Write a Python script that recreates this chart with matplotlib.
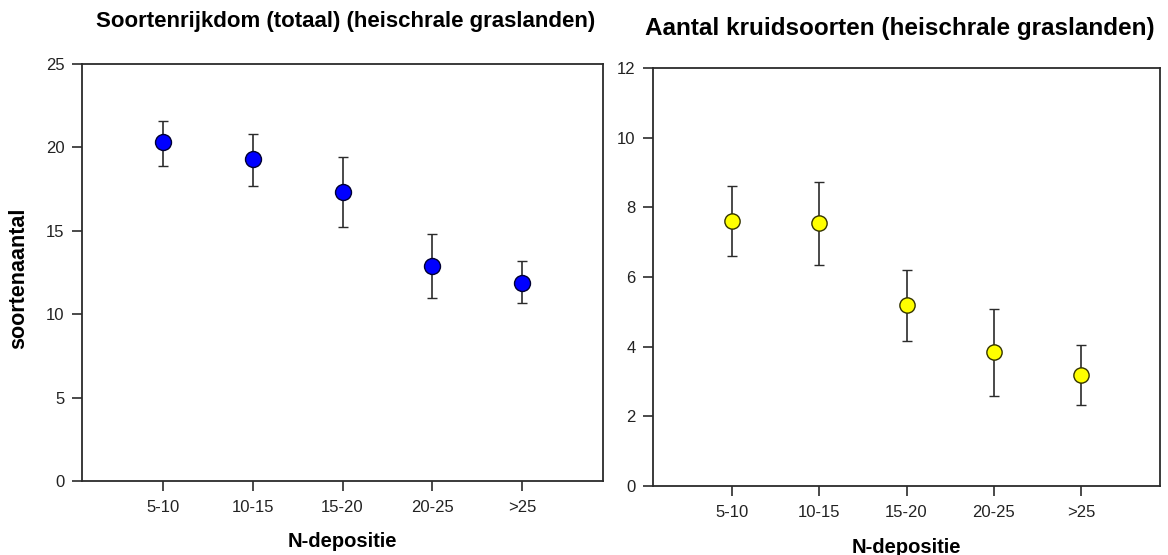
import matplotlib
matplotlib.use("Agg")
import numpy as np
import matplotlib.pyplot as plt

plt.rcParams['font.family'] = ['Liberation Sans', 'DejaVu Sans']

# categorieen N-depositie
klassen = ['5-10', '10-15', '15-20', '20-25', '>25']

# soortenrijkdom totaal: gemiddelde, onder- en bovengrens
totaal_gem = [20.3, 19.3, 17.3, 12.9, 11.9]
totaal_laag = [18.9, 17.7, 15.2, 11.0, 10.7]
totaal_hoog = [21.6, 20.8, 19.4, 14.8, 13.2]

# aantal kruidsoorten
kruid_gem = [7.6, 7.55, 5.2, 3.85, 3.2]
kruid_laag = [6.6, 6.35, 4.15, 2.57, 2.33]
kruid_hoog = [8.6, 8.72, 6.21, 5.09, 4.06]

lijn = '#2b2b2b'
W, H = 1168, 555


def paneel(ax, gem, laag, hoog, kleur, rand, ymax, ystap, ms):
    x = np.arange(1, len(klassen) + 1)
    gem = np.array(gem)
    yerr = [gem - np.array(laag), np.array(hoog) - gem]
    ax.errorbar(x, gem, yerr=yerr, fmt='o', color=lijn, ecolor=lijn,
                elinewidth=1.2, capsize=3.3, capthick=1.2,
                markerfacecolor=kleur, markeredgecolor=rand,
                markeredgewidth=1.0, markersize=ms, zorder=3)
    ax.set_xlim(0.1, 5.9)
    ax.set_ylim(0, ymax)
    ax.set_xticks(x)
    ax.set_xticklabels(klassen)
    ax.set_yticks(np.arange(0, ymax + 0.01, ystap))
    ax.tick_params(direction='out', length=7.5, width=1.2, color=lijn,
                   labelsize=12, labelcolor='#222222')
    ax.tick_params(axis='x', pad=6)
    ax.tick_params(axis='y', pad=5)
    for s in ax.spines.values():
        s.set_linewidth(1.3)
        s.set_color(lijn)


fig = plt.figure(figsize=(W / 100, H / 100), dpi=100)

ax1 = fig.add_axes([0.0702, 0.1333, 0.4461, 0.7514])
paneel(ax1, totaal_gem, totaal_laag, totaal_hoog, '#0000ff', '#000033', 25, 5, 11.5)

ax2 = fig.add_axes([0.5591, 0.1243, 0.4341, 0.7532])
paneel(ax2, kruid_gem, kruid_laag, kruid_hoog, '#ffff00', '#333300', 12, 2, 11)

# as-labels
fig.text(19 / W, 1 - 278 / H, 'soortenaantal', rotation=90, ha='center', va='center',
         fontsize=15.5, fontweight='bold')
fig.text(342 / W, 1 - 547 / H, 'N-depositie', ha='center', va='baseline',
         fontsize=14.5, fontweight='bold')
fig.text(906 / W, 1 - 553 / H, 'N-depositie', ha='center', va='baseline',
         fontsize=14.5, fontweight='bold')

# titels
fig.text(346 / W, 1 - 22 / H, 'Soortenrijkdom (totaal) (heischrale graslanden)',
         ha='center', va='center', fontsize=16, fontweight='bold')
fig.text(900 / W, 1 - 28 / H, 'Aantal kruidsoorten (heischrale graslanden)',
         ha='center', va='center', fontsize=17.5, fontweight='bold')

fig.savefig('out.png', dpi=100, facecolor='white')
